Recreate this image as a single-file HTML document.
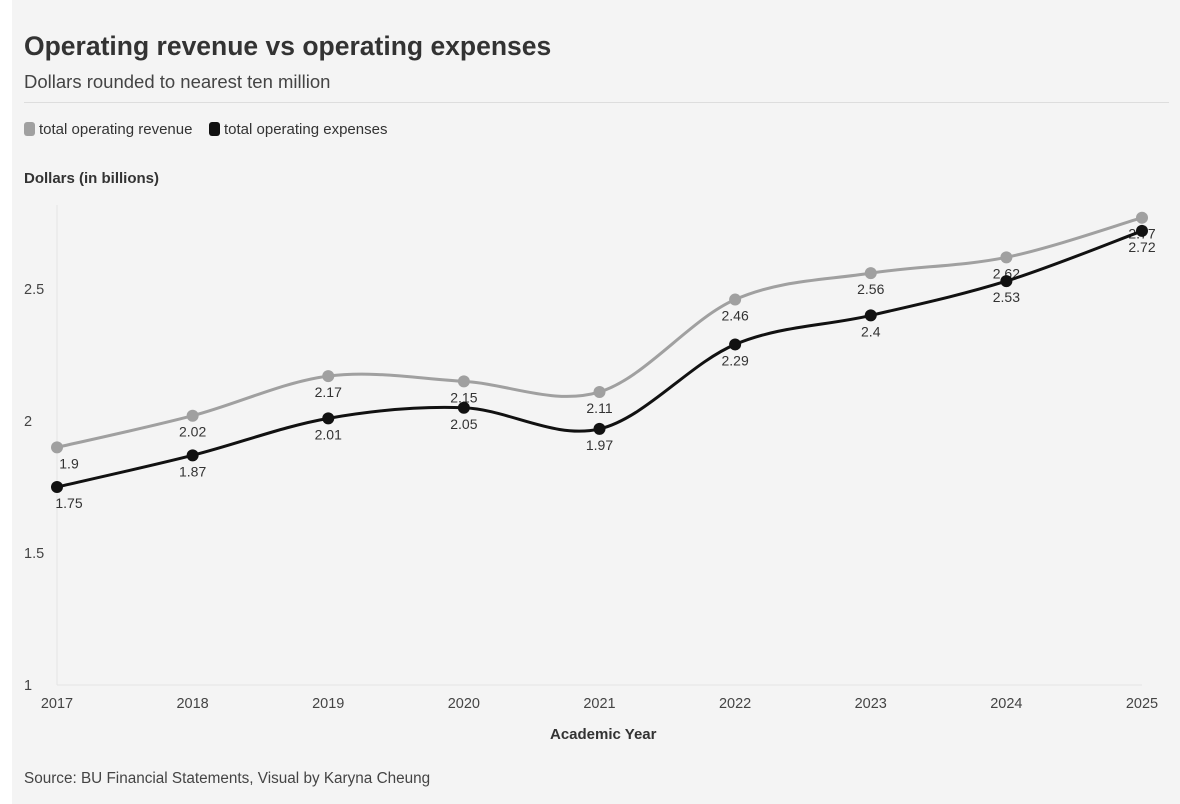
<!DOCTYPE html>
<html><head><meta charset="utf-8"><style>
html,body{margin:0;padding:0;background:#fff;}
body{width:1180px;height:804px;overflow:hidden;font-family:"Liberation Sans",sans-serif;}
#card{position:absolute;left:12px;top:0;width:1168px;height:804px;background:#f4f4f4;}
.t{position:absolute;color:#333;white-space:nowrap;}
</style></head><body>
<div id="card"></div>
<div class="t" style="left:24px;top:31px;font-size:26.5px;font-weight:bold;">Operating revenue vs operating expenses</div>
<div class="t" style="left:24px;top:71px;font-size:18.5px;color:#444;">Dollars rounded to nearest ten million</div>
<div style="position:absolute;left:24px;top:102px;width:1145px;height:1px;background:#ddd;"></div>
<div class="t" style="left:24px;top:121px;font-size:15px;"><span style="display:inline-block;width:11px;height:14px;border-radius:3px;background:#a0a0a0;vertical-align:-2px;margin-right:4px"></span>total operating revenue</div>
<div class="t" style="left:209px;top:121px;font-size:15px;"><span style="display:inline-block;width:11px;height:14px;border-radius:3px;background:#111;vertical-align:-2px;margin-right:4px"></span>total operating expenses</div>
<div class="t" style="left:24px;top:170px;font-size:15px;font-weight:bold;">Dollars (in billions)</div>
<div class="t" style="left:550px;top:726px;font-size:15px;font-weight:bold;">Academic Year</div>
<div class="t" style="left:24px;top:770px;font-size:15.3px;color:#444;">Source: BU Financial Statements, Visual by Karyna Cheung</div>
<svg id="chart" width="1180" height="804" style="position:absolute;left:0;top:0" font-family="Liberation Sans, sans-serif"></svg>
<script>
const years=["2017","2018","2019","2020","2021","2022","2023","2024","2025"];
const revenue=[1.9,2.02,2.17,2.15,2.11,2.46,2.56,2.62,2.77];
const expenses=[1.75,1.87,2.01,2.05,1.97,2.29,2.4,2.53,2.72];
const yTicks=[1,1.5,2,2.5];
const svg=document.getElementById('chart');
const NS='http://www.w3.org/2000/svg';
const x=i=>57+i*(1142-57)/(years.length-1);
const y=v=>685-(v-1)*264;
function mk(t,a){const e=document.createElementNS(NS,t);for(const k in a)e.setAttribute(k,a[k]);svg.appendChild(e);return e;}
let ax=mk('line',{x1:57,x2:57,y1:205,y2:685,stroke:'#e4e4e4'});


let bl=mk('line',{x1:57,x2:1142,y1:685,y2:685,stroke:'#e4e4e4'});


yTicks.forEach(v=>{const t=mk('text',{x:24,y:y(v)+5,'font-size':14.5,fill:'#444'});t.textContent=v;

});
years.forEach((yr,i)=>{const t=mk('text',{x:x(i),y:708,'font-size':14.5,fill:'#444','text-anchor':'middle'});t.textContent=yr;

});
function path(vals){const p=vals.map((v,i)=>[x(i),y(v)]);let d='M'+p[0];
for(let i=0;i<p.length-1;i++){const p0=p[Math.max(0,i-1)],p1=p[i],p2=p[i+1],p3=p[Math.min(p.length-1,i+2)];
const c1=[p1[0]+(p2[0]-p0[0])/6,p1[1]+(p2[1]-p0[1])/6],c2=[p2[0]-(p3[0]-p1[0])/6,p2[1]-(p3[1]-p1[1])/6];
d+=' C'+c1+' '+c2+' '+p2;}return d;}
function series(vals,col,name){
const l=mk('path',{d:path(vals),fill:'none',stroke:col,'stroke-width':3});


vals.forEach((v,i)=>{const c=mk('circle',{cx:x(i),cy:y(v),r:6,fill:col});


const t=mk('text',{x:x(i)+(i==0?12:0),y:y(v)+21,'font-size':14,fill:'#333','text-anchor':'middle'});t.textContent=v;

});}
series(revenue,'#a0a0a0','revenue');
series(expenses,'#111','expenses');
</script>
</body></html>
